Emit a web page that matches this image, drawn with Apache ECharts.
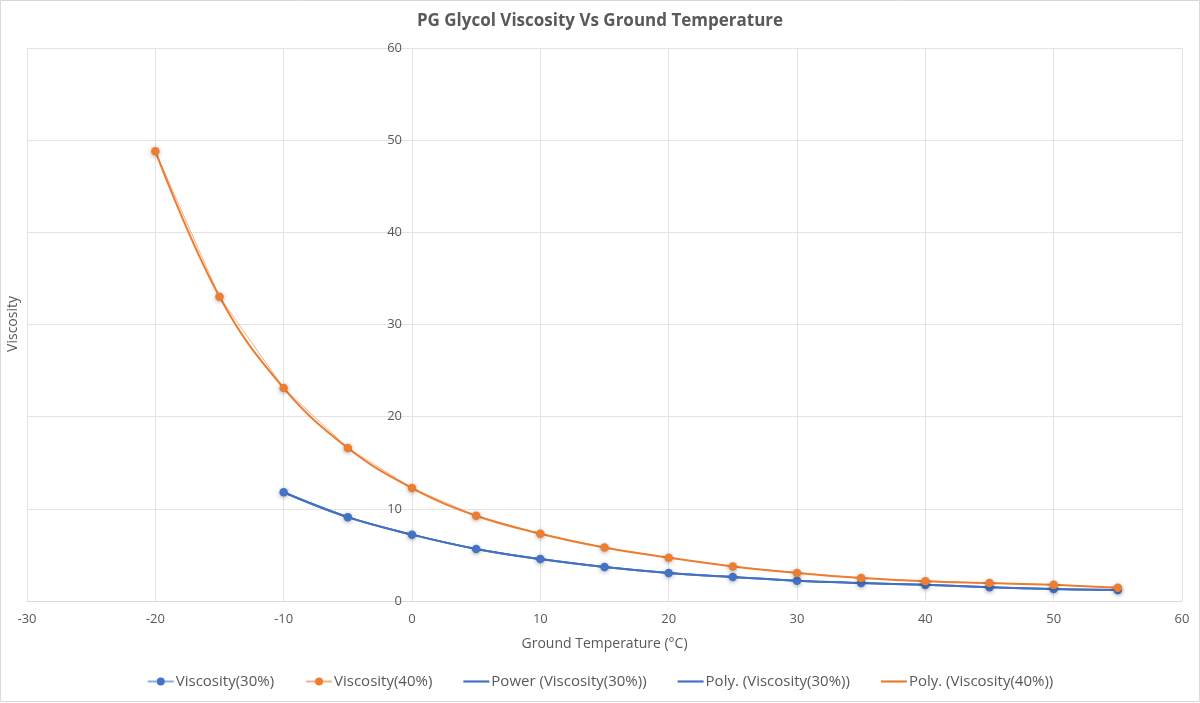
<!DOCTYPE html>
<html><head><meta charset="utf-8">
<script src="https://cdn.jsdelivr.net/npm/echarts@6/dist/echarts.min.js"></script>
<style>html,body{margin:0;padding:0;background:#fff}#c{width:1200px;height:703px}</style>
</head><body><div id="c"></div>
<script>
const temps30 = [-10,-5,0,5,10,15,20,25,30,35,40,45,50,55];
const visc30 = [11.8,9.1,7.2,5.65,4.55,3.7,3.05,2.6,2.2,1.95,1.75,1.5,1.3,1.2];
const temps40 = [-20,-15,-10,-5,0,5,10,15,20,25,30,35,40,45,50,55];
const visc40 = [48.8,33.0,23.1,16.6,12.25,9.25,7.3,5.8,4.7,3.75,3.05,2.5,2.15,1.95,1.75,1.45];
const xTicks = {min:-30, max:60, interval:10};
const yTicks = {min:0, max:60, interval:10};

const pts = (xs, ys) => xs.map((x,i)=>[x, ys[i]]);
const blue = '#4472C4', orange = '#ED7D31';
const font = 'Open Sans';
const W = 1200, gridLeft = 27, gridRight = 18;
const gridWidth = W - gridLeft - gridRight;
// y axis crosses at x = 0
const yOffset = -((0 - xTicks.min) / (xTicks.max - xTicks.min)) * gridWidth;
const lineIcon = 'path://M0,0H26V2.2H0Z';
const chart = echarts.init(document.getElementById('c'));
const dataSeries = (name, d, color) => ({
  name, type:'line', data:d, symbol:'circle', symbolSize:8.5, z:5,
  lineStyle:{color, width:1, opacity:0.6}, itemStyle:{color, shadowBlur:4, shadowColor:'rgba(0,0,0,0.35)', shadowOffsetY:1},
  emphasis:{disabled:true}
});
const trend = (name, d, color) => ({
  name, type:'line', data:d, symbol:'none', smooth:0.4, z:4,
  lineStyle:{color, width:2}, itemStyle:{color}, emphasis:{disabled:true}
});
chart.setOption({
  animation:false,
  title:{text:'PG Glycol Viscosity Vs Ground Temperature', left:'center', top:8,
    textStyle:{fontFamily:font, fontSize:17, fontWeight:'bold', color:'#595959'}},
  grid:{left:gridLeft, right:gridRight, top:48, bottom:102, containLabel:false, outerBoundsMode:'none'},
  xAxis:{type:'value', min:xTicks.min, max:xTicks.max, interval:xTicks.interval,
    name:'Ground Temperature (°C)', nameLocation:'middle', nameGap:36,
    nameTextStyle:{fontFamily:font, fontSize:14, color:'#595959'},
    axisLine:{show:true, onZero:false, lineStyle:{color:'#d9d9d9'}}, axisTick:{show:false},
    axisLabel:{fontFamily:font, fontSize:13, color:'#595959', margin:12},
    splitLine:{show:true, lineStyle:{color:'#e3e3e3'}}},
  yAxis:{type:'value', min:yTicks.min, max:yTicks.max, interval:yTicks.interval,
    position:'left', offset:yOffset,
    axisLine:{show:false, onZero:false}, axisTick:{show:false},
    axisLabel:{fontFamily:font, fontSize:13, color:'#595959', margin:10},
    splitLine:{show:true, lineStyle:{color:'#e3e3e3'}}},
  legend:{bottom:9, left:'center', itemGap:31, itemWidth:26, itemHeight:10,
    textStyle:{fontFamily:font, fontSize:15, color:'#595959', padding:[0,0,0,-3]},
    data:[
      {name:'Viscosity(30%)'},
      {name:'Viscosity(40%)'},
      {name:'Power (Viscosity(30%))', icon:lineIcon},
      {name:'Poly. (Viscosity(30%))', icon:lineIcon},
      {name:'Poly. (Viscosity(40%))', icon:lineIcon}
    ]},
  graphic:[
    {type:'text', left:6, top:296, rotation:Math.PI/2, style:{text:'Viscosity', fontFamily:font, fontSize:14, fill:'#595959'}},
    {type:'rect', shape:{x:0.5,y:0.5,width:1199,height:701}, style:{fill:null, stroke:'#d9d9d9'}, silent:true}
  ],
  series:[
    dataSeries('Viscosity(30%)', pts(temps30, visc30), blue),
    dataSeries('Viscosity(40%)', pts(temps40, visc40), orange),
    trend('Power (Viscosity(30%))', pts(temps30, visc30), blue),
    trend('Poly. (Viscosity(30%))', pts(temps30, visc30), blue),
    trend('Poly. (Viscosity(40%))', pts(temps40, visc40), orange)
  ]
});
</script></body></html>
